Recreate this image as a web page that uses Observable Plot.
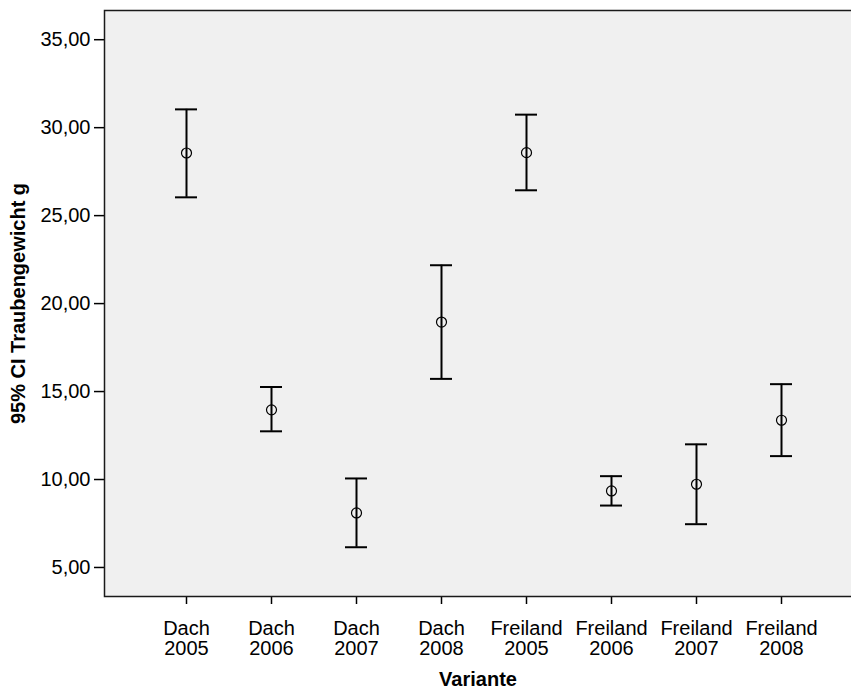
<!DOCTYPE html>
<html>
<head>
<meta charset="utf-8">
<script src="https://cdn.jsdelivr.net/npm/d3@7"></script>
<script src="https://cdn.jsdelivr.net/npm/@observablehq/plot@0.6"></script>
<style>
  html, body { margin: 0; padding: 0; background: white; }
  #chart { width: 851px; height: 688px; overflow: hidden; }
</style>
</head>
<body>
<div id="chart"></div>
<script>
const groups = ["Dach", "Dach", "Dach", "Dach", "Freiland", "Freiland", "Freiland", "Freiland"];
const years = ["2005", "2006", "2007", "2008", "2005", "2006", "2007", "2008"];
const means = [28.56, 13.96, 8.10, 18.95, 28.58, 9.35, 9.73, 13.37];
const lower = [26.04, 12.74, 6.15, 15.72, 26.44, 8.52, 7.46, 11.33];
const upper = [31.04, 15.26, 10.06, 22.18, 30.74, 10.19, 12.00, 15.42];
const yTicks = [5, 10, 15, 20, 25, 30, 35];
const yLabel = "95% CI Traubengewicht g";
const xLabel = "Variante";

const labels = groups.map((g, i) => `${g}\n${years[i]}`);
const data = labels.map((v, i) => ({variant: v, mean: means[i], lower: lower[i], upper: upper[i]}));
const fmt = d => d.toFixed(2).replace(".", ",");

const chart = Plot.plot({
  width: 851,
  height: 688,
  marginTop: 10,
  marginBottom: 92,
  marginLeft: 104,
  marginRight: -12,
  style: {fontFamily: "'Liberation Sans', Arial, sans-serif", fontSize: "20px", color: "#000", background: "white", overflow: "hidden"},
  x: {type: "band", domain: labels, paddingInner: 0.742, paddingOuter: 0.82, align: 0.5, label: null},
  y: {domain: [3.35, 36.66], label: null},
  marks: [
    Plot.frame({fill: "#f0f0f0"}),
    Plot.axisY({ticks: yTicks, tickFormat: fmt, tickSize: 10, tickPadding: 4, fontSize: 20, label: null, stroke: "#000", strokeWidth: 1.5}),
    Plot.axisX({tickSize: 8, tickPadding: 16, fontSize: 20, lineHeight: 1, label: null, stroke: "#000", strokeWidth: 1.5}),
    Plot.ruleX(data, {x: "variant", y1: "lower", y2: "upper", stroke: "#000", strokeWidth: 2}),
    Plot.tickY(data, {x: "variant", y: "lower", stroke: "#000", strokeWidth: 2}),
    Plot.tickY(data, {x: "variant", y: "upper", stroke: "#000", strokeWidth: 2}),
    Plot.dot(data, {x: "variant", y: "mean", r: 5, stroke: "#000", strokeWidth: 1.2, fill: "none"}),
    Plot.frame({stroke: "#1a1a1a", strokeWidth: 1.5}),
    Plot.text([yLabel], {text: d => d, frameAnchor: "left", textAnchor: "middle", dx: -86, rotate: -90, fontWeight: "bold", fontSize: 20, fill: "#000"}),
    Plot.text([xLabel], {text: d => d, frameAnchor: "bottom", dy: 89, dx: -6, fontWeight: "bold", fontSize: 20, fill: "#000"})
  ]
});
document.getElementById("chart").appendChild(chart);
</script>
</body>
</html>
